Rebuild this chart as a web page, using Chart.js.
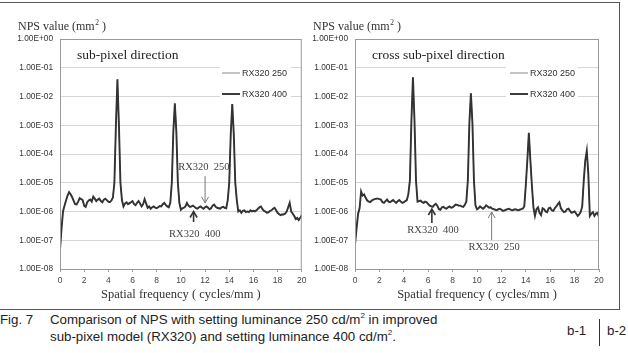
<!DOCTYPE html>
<html><head><meta charset="utf-8">
<script src="https://cdn.jsdelivr.net/npm/chart.js@4.4.0/dist/chart.umd.min.js"></script>
<style>
html,body{margin:0;padding:0;background:#fff;width:628px;height:353px;overflow:hidden;position:relative;font-family:"Liberation Sans",Arial,sans-serif;}
#frame{position:absolute;left:-3px;top:2px;width:623px;height:308px;border:1.5px solid #555;border-left:none;box-sizing:border-box;}
#c1{position:absolute;left:0;top:0;}
#c2{position:absolute;left:310px;top:0;}
.cap{position:absolute;font-size:13.3px;color:#222;white-space:nowrap;line-height:15px;}
.cap sup{font-size:8px;vertical-align:6px;line-height:0;}
#bar{position:absolute;left:599px;top:319px;width:1px;height:27px;background:#333;}
</style></head><body>
<div id="frame"></div>
<canvas id="c1" width="310" height="305"></canvas>
<canvas id="c2" width="310" height="305"></canvas>
<div class="cap" style="left:0;top:312px;">Fig. 7</div>
<div class="cap" style="left:50px;top:312px;">Comparison of NPS with setting luminance 250 cd/m<sup>2</sup> in improved</div>
<div class="cap" style="left:50px;top:329px;">sub-pixel model (RX320) and setting luminance 400 cd/m<sup>2</sup>.</div>
<div class="cap" style="left:567px;top:323px;">b-1</div>
<div id="bar"></div>
<div class="cap" style="left:607px;top:323px;">b-2</div>
<script>
// ---------- DATA ----------
const freq = [
0,0.125,0.25,0.375,0.5,0.625,0.75,0.875,
1,1.125,1.25,1.375,1.5,1.625,1.75,1.875,
2,2.125,2.25,2.375,2.5,2.625,2.75,2.875,
3,3.125,3.25,3.375,3.5,3.625,3.75,3.875,
4,4.125,4.25,4.375,4.5,4.625,4.75,4.875,
5,5.125,5.25,5.375,5.5,5.625,5.75,5.875,
6,6.125,6.25,6.375,6.5,6.625,6.75,6.875,
7,7.125,7.25,7.375,7.5,7.625,7.75,7.875,
8,8.125,8.25,8.375,8.5,8.625,8.75,8.875,
9,9.125,9.25,9.375,9.5,9.625,9.75,9.875,
10,10.125,10.25,10.375,10.5,10.625,10.75,10.875,
11,11.125,11.25,11.375,11.5,11.625,11.75,11.875,
12,12.125,12.25,12.375,12.5,12.625,12.75,12.875,
13,13.125,13.25,13.375,13.5,13.625,13.75,13.875,
14,14.125,14.25,14.375,14.5,14.625,14.75,14.875,
15,15.125,15.25,15.375,15.5,15.625,15.75,15.875,
16,16.125,16.25,16.375,16.5,16.625,16.75,16.875,
17,17.125,17.25,17.375,17.5,17.625,17.75,17.875,
18,18.125,18.25,18.375,18.5,18.625,18.75,18.875,
19,19.125,19.25,19.375,19.5,19.625,19.75,19.875,
20];

// sub-pixel direction (b-1)
const subPixel400 = [
4.7e-8,2.5e-7,1.0e-6,1.6e-6,2.4e-6,3.6e-6,4.7e-6,4.0e-6,
3.2e-6,2.4e-6,1.8e-6,1.75e-6,2.2e-6,2.9e-6,2.7e-6,2.5e-6,
1.6e-6,1.45e-6,2.1e-6,2.4e-6,2.6e-6,2.2e-6,3.3e-6,2.8e-6,
2.3e-6,2.6e-6,2.8e-6,2.3e-6,2.1e-6,2.6e-6,2.8e-6,2.5e-6,
2.2e-6,2.1e-6,2.4e-6,3.0e-6,1.0e-5,1.0e-3,4.0e-2,1.0e-3,
1.0e-5,2.5e-6,1.5e-6,1.9e-6,2.1e-6,1.8e-6,1.95e-6,2.1e-6,
2.3e-6,1.8e-6,1.65e-6,2.0e-6,2.3e-6,1.9e-6,1.5e-6,1.8e-6,
2.7e-6,1.9e-6,1.35e-6,1.5e-6,1.25e-6,1.4e-6,1.5e-6,1.35e-6,
1.3e-6,1.4e-6,1.55e-6,1.5e-6,1.8e-6,2.0e-6,1.7e-6,1.5e-6,
1.4e-6,2.0e-6,1.0e-5,6.0e-4,5.8e-3,6.0e-4,1.0e-5,2.0e-6,
1.15e-6,1.3e-6,1.35e-6,1.5e-6,2.0e-6,1.6e-6,1.45e-6,1.5e-6,
1.6e-6,1.45e-6,1.3e-6,1.25e-6,1.4e-6,1.5e-6,1.35e-6,1.25e-6,
1.4e-6,1.5e-6,1.35e-6,1.2e-6,1.3e-6,1.6e-6,1.75e-6,1.45e-6,
1.35e-6,1.3e-6,1.25e-6,1.4e-6,1.45e-6,1.35e-6,1.3e-6,2.5e-6,
1.0e-5,5.0e-4,5.5e-3,5.0e-4,1.0e-5,2.5e-6,1.0e-6,1.1e-6,
9.0e-7,1.05e-6,1.1e-6,9.5e-7,1.0e-6,9.5e-7,1.1e-6,1.0e-6,
1.05e-6,1.0e-6,1.1e-6,1.25e-6,1.4e-6,1.5e-6,1.2e-6,1.05e-6,
1.0e-6,9.0e-7,9.5e-7,1.05e-6,1.1e-6,1.25e-6,1.35e-6,1.1e-6,
9.0e-7,8.0e-7,7.5e-7,8.0e-7,7.8e-7,8.5e-7,1.0e-6,1.4e-6,
2.0e-6,1.0e-6,8.5e-7,7.0e-7,5.5e-7,6.0e-7,5.0e-7,6.0e-7,
7.5e-7];
const subPixel250 = [
5.0e-8,2.8e-7,1.1e-6,1.7e-6,2.5e-6,3.4e-6,4.5e-6,4.1e-6,
3.0e-6,2.3e-6,1.9e-6,1.8e-6,2.1e-6,2.7e-6,2.8e-6,2.4e-6,
1.7e-6,1.5e-6,2.0e-6,2.5e-6,2.5e-6,2.3e-6,3.1e-6,2.7e-6,
2.4e-6,2.5e-6,2.7e-6,2.4e-6,2.2e-6,2.5e-6,2.7e-6,2.4e-6,
2.1e-6,2.2e-6,2.3e-6,3.2e-6,1.1e-5,9.0e-4,3.8e-2,1.1e-3,
9.0e-6,2.3e-6,1.6e-6,1.8e-6,2.0e-6,1.9e-6,1.85e-6,2.0e-6,
2.2e-6,1.9e-6,1.7e-6,1.9e-6,2.2e-6,1.8e-6,1.6e-6,1.7e-6,
2.5e-6,1.8e-6,1.4e-6,1.45e-6,1.3e-6,1.35e-6,1.45e-6,1.4e-6,
1.35e-6,1.45e-6,1.5e-6,1.55e-6,1.7e-6,1.9e-6,1.6e-6,1.55e-6,
1.45e-6,2.1e-6,1.1e-5,5.5e-4,5.5e-3,6.5e-4,9.0e-6,1.9e-6,
1.2e-6,1.25e-6,1.4e-6,1.45e-6,1.9e-6,1.65e-6,1.5e-6,1.45e-6,
1.55e-6,1.5e-6,1.35e-6,1.3e-6,1.35e-6,1.45e-6,1.4e-6,1.3e-6,
1.45e-6,1.45e-6,1.3e-6,1.25e-6,1.35e-6,1.55e-6,1.7e-6,1.5e-6,
1.3e-6,1.35e-6,1.3e-6,1.35e-6,1.5e-6,1.3e-6,1.35e-6,2.4e-6,
1.1e-5,4.5e-4,5.2e-3,5.5e-4,9.0e-6,2.4e-6,1.05e-6,1.05e-6,
9.5e-7,1.0e-6,1.05e-6,1.0e-6,9.5e-7,1.0e-6,1.05e-6,1.05e-6,
1.0e-6,1.05e-6,1.05e-6,1.2e-6,1.35e-6,1.45e-6,1.25e-6,1.1e-6,
9.5e-7,9.5e-7,9.0e-7,1.0e-6,1.15e-6,1.2e-6,1.3e-6,1.15e-6,
9.5e-7,8.5e-7,7.8e-7,7.5e-7,8.2e-7,8.0e-7,1.05e-6,1.3e-6,
1.9e-6,1.05e-6,8.0e-7,7.5e-7,5.8e-7,5.5e-7,5.3e-7,6.2e-7,
7.8e-7];

// cross sub-pixel direction (b-2)
const crossPixel400 = [
7.0e-8,2.5e-7,8.0e-7,1.3e-6,5.0e-6,3.6e-6,3.9e-6,3.0e-6,
2.4e-6,2.2e-6,2.1e-6,2.4e-6,2.6e-6,2.7e-6,2.8e-6,2.8e-6,
2.7e-6,2.6e-6,2.1e-6,2.0e-6,2.3e-6,2.6e-6,2.2e-6,2.1e-6,
2.3e-6,2.5e-6,2.2e-6,2.0e-6,2.3e-6,2.5e-6,2.2e-6,2.0e-6,
2.1e-6,2.3e-6,2.5e-6,4.0e-6,1.2e-5,1.5e-3,4.7e-2,1.5e-3,
1.2e-5,2.2e-6,2.3e-6,2.4e-6,2.1e-6,2.0e-6,2.2e-6,2.1e-6,
1.8e-6,1.6e-6,1.5e-6,1.45e-6,1.7e-6,1.85e-6,1.6e-6,1.2e-6,
1.15e-6,1.4e-6,1.45e-6,1.3e-6,1.25e-6,1.4e-6,1.5e-6,1.35e-6,
1.4e-6,1.55e-6,1.75e-6,1.7e-6,1.6e-6,1.6e-6,1.5e-6,1.45e-6,
1.7e-6,2.2e-6,1.2e-5,1.2e-3,1.3e-2,1.2e-3,1.2e-5,1.6e-6,
1.2e-6,1.3e-6,1.5e-6,1.35e-6,1.25e-6,1.4e-6,1.65e-6,1.5e-6,
1.35e-6,1.4e-6,1.25e-6,1.2e-6,1.15e-6,1.1e-6,1.2e-6,1.25e-6,
1.15e-6,1.05e-6,1.1e-6,1.15e-6,1.2e-6,1.25e-6,1.15e-6,1.1e-6,
1.15e-6,1.2e-6,1.15e-6,1.1e-6,1.15e-6,1.2e-6,1.25e-6,1.5e-6,
8.0e-6,6.0e-5,5.5e-4,6.0e-5,8.0e-6,1.4e-6,7.0e-7,1.2e-6,
1.4e-6,9.0e-7,7.5e-7,1.3e-6,1.2e-6,1.0e-6,9.5e-7,1.3e-6,
1.35e-6,1.1e-6,1.05e-6,1.3e-6,1.5e-6,1.8e-6,2.1e-6,1.3e-6,
1.1e-6,9.5e-7,1.0e-6,1.2e-6,1.25e-6,1.05e-6,9.0e-7,9.5e-7,
1.0e-6,8.5e-7,7.0e-7,8.0e-7,9.5e-7,1.5e-6,1.2e-5,6.0e-5,
1.3e-4,2.0e-5,7.0e-7,8.5e-7,9.5e-7,7.0e-7,8.5e-7,9.0e-7,
6.5e-7];
const crossPixel250 = [
7.5e-8,2.8e-7,9.0e-7,1.4e-6,4.6e-6,3.8e-6,3.7e-6,3.1e-6,
2.5e-6,2.3e-6,2.2e-6,2.3e-6,2.5e-6,2.8e-6,2.7e-6,2.9e-6,
2.6e-6,2.5e-6,2.2e-6,2.1e-6,2.2e-6,2.5e-6,2.3e-6,2.2e-6,
2.2e-6,2.4e-6,2.3e-6,2.1e-6,2.2e-6,2.4e-6,2.3e-6,2.1e-6,
2.0e-6,2.2e-6,2.4e-6,4.5e-6,1.3e-5,1.4e-3,4.5e-2,1.6e-3,
1.1e-5,2.3e-6,2.2e-6,2.3e-6,2.2e-6,2.1e-6,2.1e-6,2.0e-6,
1.9e-6,1.7e-6,1.55e-6,1.5e-6,1.6e-6,1.8e-6,1.5e-6,1.3e-6,
1.2e-6,1.35e-6,1.4e-6,1.35e-6,1.3e-6,1.35e-6,1.45e-6,1.4e-6,
1.45e-6,1.5e-6,1.7e-6,1.65e-6,1.55e-6,1.65e-6,1.45e-6,1.5e-6,
1.6e-6,2.3e-6,1.3e-5,1.1e-3,1.25e-2,1.3e-3,1.1e-5,1.7e-6,
1.25e-6,1.25e-6,1.45e-6,1.4e-6,1.3e-6,1.35e-6,1.6e-6,1.45e-6,
1.3e-6,1.45e-6,1.2e-6,1.25e-6,1.1e-6,1.15e-6,1.15e-6,1.2e-6,
1.2e-6,1.1e-6,1.05e-6,1.2e-6,1.15e-6,1.2e-6,1.2e-6,1.05e-6,
1.1e-6,1.15e-6,1.2e-6,1.05e-6,1.2e-6,1.15e-6,1.3e-6,1.6e-6,
9.0e-6,5.5e-5,5.2e-4,6.5e-5,7.0e-6,1.5e-6,7.5e-7,1.1e-6,
1.3e-6,9.5e-7,8.0e-7,1.2e-6,1.25e-6,9.5e-7,1.0e-6,1.2e-6,
1.3e-6,1.15e-6,1.0e-6,1.25e-6,1.45e-6,1.7e-6,2.0e-6,1.4e-6,
1.05e-6,1.0e-6,9.5e-7,1.15e-6,1.3e-6,1.0e-6,9.5e-7,9.0e-7,
1.05e-6,8.0e-7,7.5e-7,7.5e-7,1.0e-6,1.6e-6,1.1e-5,5.5e-5,
1.25e-4,2.2e-5,7.5e-7,8.0e-7,9.0e-7,7.5e-7,8.0e-7,8.5e-7,
7.0e-7];

const seriesLabels = ['RX320 250', 'RX320 400'];
const xTickValues = [0,2,4,6,8,10,12,14,16,18,20];
const yTickValues = [1e-8,1e-7,1e-6,1e-5,1e-4,1e-3,1e-2,1e-1,1];
const yTickLabels = ['1.00E-08','1.00E-07','1.00E-06','1.00E-05','1.00E-04','1.00E-03','1.00E-02','1.00E-01','1.00E+00'];
const xTitle = 'Spatial frequency ( cycles/mm )';
const panelTitles = ['sub-pixel direction', 'cross sub-pixel direction'];

// ---------- DRAWING ----------
const GRAY = '#8a8a8a', DARK = '#333333';

function drawArrow(ctx, x, y0, y1, color, width) {
  ctx.save();
  ctx.strokeStyle = color; ctx.lineWidth = width;
  ctx.beginPath(); ctx.moveTo(x, y0); ctx.lineTo(x, y1); ctx.stroke();
  const dir = y1 > y0 ? 1 : -1;
  ctx.beginPath();
  ctx.moveTo(x - 3.5, y1 - dir * 6); ctx.lineTo(x, y1); ctx.lineTo(x + 3.5, y1 - dir * 6);
  ctx.stroke();
  ctx.restore();
}

function makeDecorPlugin(cfg) {
  return {
    id: 'decor',
    beforeDatasetsDraw(chart) {
      const {ctx, chartArea: a} = chart;
      ctx.save();
      ctx.fillStyle = '#fff';
      ctx.fillRect(a.left + cfg.boxL, a.top + 21, cfg.boxW, 45);
      ctx.restore();
    },
    afterDraw(chart) {
      const {ctx, chartArea: a, scales} = chart;
      ctx.save();
      ctx.strokeStyle = '#9a9a9a'; ctx.lineWidth = 1;
      ctx.strokeRect(a.left + 0.5, a.top + 0.5, a.right - a.left - 1, a.bottom - a.top);
      ctx.fillStyle = '#333';
      ctx.textBaseline = 'middle'; ctx.textAlign = 'left';
      ctx.font = '12px "Liberation Serif", serif';
      let tx = a.left - 42, ty = a.top - 12;
      const t1 = 'NPS value (mm';
      ctx.fillText(t1, tx, ty);
      tx += ctx.measureText(t1).width;
      ctx.font = '7.5px "Liberation Serif", serif';
      ctx.fillText('2', tx + 0.5, ty - 4);
      tx += ctx.measureText('2').width + 0.5;
      ctx.font = '12px "Liberation Serif", serif';
      ctx.fillText(' )', tx, ty);
      ctx.font = '13.5px "Liberation Serif", serif';
      ctx.fillStyle = '#222';
      ctx.fillText(cfg.title, a.left + 17, a.top + 16);
      chart.data.datasets.forEach((ds, i) => {
        const y = a.top + 34 + i * 21;
        ctx.strokeStyle = ds.borderColor; ctx.lineWidth = ds.borderWidth;
        ctx.beginPath(); ctx.moveTo(a.left + cfg.legL, y); ctx.lineTo(a.left + cfg.legL + 18, y); ctx.stroke();
        ctx.fillStyle = '#333';
        ctx.font = '9px "Liberation Sans", Arial, sans-serif';
        ctx.fillText(ds.label, a.left + cfg.legL + 20, y + 0.5);
      });
      const xs = scales.x, ys = scales.y;
      cfg.notes.forEach(n => {
        const thick = n.series === 1;
        ctx.fillStyle = '#444';
        ctx.font = '10.5px "Liberation Serif", serif';
        ctx.textAlign = 'center';
        ctx.fillText(n.text, xs.getPixelForValue(n.fx), ys.getPixelForValue(n.fy));
        drawArrow(ctx, xs.getPixelForValue(n.ax), ys.getPixelForValue(n.from), ys.getPixelForValue(n.to),
                  thick ? DARK : '#777', thick ? 1.6 : 1);
      });
      ctx.restore();
    }
  };
}

function makeChart(id, yWidth, padRight, s250, s400, cfg) {
  return new Chart(document.getElementById(id), {
    type: 'line',
    data: {
      datasets: [
        {label: seriesLabels[0], data: freq.map((f, i) => ({x: f, y: s250[i]})),
         borderColor: GRAY, borderWidth: 1, pointRadius: 0, tension: 0, order: 2},
        {label: seriesLabels[1], data: freq.map((f, i) => ({x: f, y: s400[i]})),
         borderColor: DARK, borderWidth: 1.9, pointRadius: 0, tension: 0, order: 1}
      ]
    },
    options: {
      responsive: false, animation: false,
      layout: {padding: {top: 39, right: padRight, left: 0, bottom: 0}},
      plugins: {legend: {display: false}, tooltip: {enabled: false}},
      scales: {
        x: {
          type: 'linear', min: 0, max: 20,
          afterBuildTicks: s => { s.ticks = xTickValues.map(v => ({value: v})); },
          afterFit: s => { s.height = 36; },
          ticks: {font: {family: 'Liberation Sans', size: 8.5}, color: '#444', padding: 3.5, maxRotation: 0},
          grid: {display: true, drawOnChartArea: false, tickLength: 3, color: '#9a9a9a'},
          border: {color: '#9a9a9a'},
          title: {display: true, text: xTitle, font: {family: 'Liberation Serif', size: 12.5}, color: '#333', padding: {top: 0, bottom: 3}}
        },
        y: {
          type: 'logarithmic', min: 1e-8, max: 1,
          afterBuildTicks: s => { s.ticks = yTickValues.map(v => ({value: v})); },
          afterFit: s => { s.width = yWidth; },
          ticks: {callback: (v, i) => yTickLabels[i], font: {family: 'Liberation Sans', size: 8.3}, color: '#333', padding: 7},
          grid: {color: '#d6d6d6', drawTicks: false},
          border: {color: '#9a9a9a'}
        }
      }
    },
    plugins: [makeDecorPlugin(cfg)]
  });
}

makeChart('c1', 60, 6, subPixel250, subPixel400, {
  title: panelTitles[0], boxL: 160, boxW: 71, legL: 162,
  notes: [
    {text: 'RX320  250', series: 0, fx: 11.9, fy: 3.5e-5, ax: 12.0, from: 1.7e-5, to: 2.0e-6},
    {text: 'RX320  400', series: 1, fx: 11.15, fy: 1.65e-7, ax: 11.05, from: 4.3e-7, to: 1.0e-6}
  ]
});
makeChart('c2', 45, 21, crossPixel250, crossPixel400, {
  title: panelTitles[1], boxL: 151, boxW: 72, legL: 155,
  notes: [
    {text: 'RX320  400', series: 1, fx: 6.39, fy: 2.3e-7, ax: 6.3, from: 4.0e-7, to: 1.22e-6},
    {text: 'RX320  250', series: 0, fx: 11.4, fy: 5.8e-8, ax: 11.2, from: 1.02e-7, to: 9.6e-7}
  ]
});
</script>
</body></html>
